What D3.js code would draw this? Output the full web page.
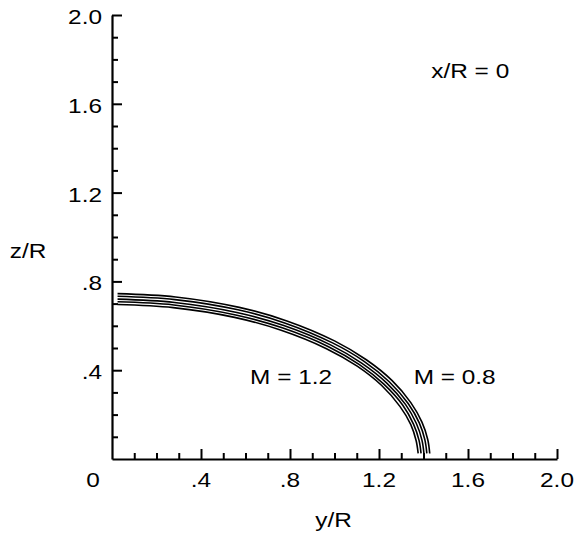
<!DOCTYPE html>
<html>
<head>
<meta charset="utf-8">
<script src="https://cdn.jsdelivr.net/npm/d3@7"></script>
<style>
  html, body { margin: 0; padding: 0; background: #fff; }
  svg { display: block; }
  text { font-family: "Liberation Sans", Arial, Helvetica, sans-serif; fill: #000; }
</style>
</head>
<body>
<svg id="chart" width="576" height="537"></svg>
<script>
// ---- data ----
const majorTicks = [0.4, 0.8, 1.2, 1.6, 2.0];
const tickLabels = [".4", ".8", "1.2", "1.6", "2.0"];
const minorTicks = [0.1, 0.2, 0.3, 0.5, 0.6, 0.7, 0.9, 1.0, 1.1, 1.3, 1.4, 1.5, 1.7, 1.8, 1.9];

// five contour curves (inner M = 1.2 ... outer M = 0.8): y/R and z/R
const curve1Y = [0.025, 0.275, 0.551, 0.757, 0.964, 1.102, 1.212, 1.294, 1.343, 1.367, 1.376];
const curve1Z = [0.696, 0.682, 0.638, 0.581, 0.497, 0.418, 0.331, 0.237, 0.155, 0.082, 0.025];
const curve2Y = [0.025, 0.278, 0.556, 0.765, 0.973, 1.112, 1.223, 1.307, 1.355, 1.380, 1.389];
const curve2Z = [0.708, 0.694, 0.649, 0.591, 0.506, 0.425, 0.336, 0.242, 0.157, 0.084, 0.025];
const curve3Y = [0.025, 0.281, 0.561, 0.772, 0.982, 1.122, 1.235, 1.319, 1.368, 1.393, 1.402];
const curve3Z = [0.720, 0.705, 0.660, 0.601, 0.514, 0.432, 0.342, 0.246, 0.160, 0.085, 0.025];
const curve4Y = [0.025, 0.283, 0.566, 0.779, 0.991, 1.133, 1.246, 1.331, 1.381, 1.406, 1.415];
const curve4Z = [0.733, 0.718, 0.672, 0.612, 0.523, 0.440, 0.348, 0.250, 0.163, 0.087, 0.025];
const curve5Y = [0.025, 0.286, 0.572, 0.786, 1.000, 1.143, 1.258, 1.343, 1.393, 1.419, 1.428];
const curve5Z = [0.745, 0.730, 0.683, 0.622, 0.532, 0.447, 0.354, 0.254, 0.166, 0.088, 0.025];

const curvesY = [curve1Y, curve2Y, curve3Y, curve4Y, curve5Y];
const curvesZ = [curve1Z, curve2Z, curve3Z, curve4Z, curve5Z];

const annotations = [
  { text: "x/R = 0", y: 1.61, z: 1.715 },
  { text: "M = 1.2", y: 0.805, z: 0.34 },
  { text: "M = 0.8", y: 1.54, z: 0.34 }
];

// ---- layout ----
const svg = d3.select("#chart");
const x = d3.scaleLinear().domain([0, 2]).range([112, 557]);
const y = d3.scaleLinear().domain([0, 2]).range([459, 15]);
const fs = 20;
const stretch = 1.22;

function addText(parent, px, py, str, anchor) {
  return parent.append("text")
    .attr("transform", `translate(${px},${py}) scale(${stretch},1)`)
    .attr("text-anchor", anchor || "middle")
    .attr("font-size", fs)
    .text(str);
}

// curves
const line = d3.line()
  .x(d => x(d[0]))
  .y(d => y(d[1]))
  .curve(d3.curveCatmullRom.alpha(0.5));

curvesY.forEach((cy, i) => {
  const pts = cy.map((v, j) => [v, curvesZ[i][j]]);
  svg.append("path")
    .attr("d", line(pts))
    .attr("fill", "none")
    .attr("stroke", "#000")
    .attr("stroke-width", 1.6);
});

// axes (ticks point inward)
const axisG = svg.append("g");
const xAxis = d3.axisBottom(x).tickValues(majorTicks).tickSize(-10).tickFormat("").tickSizeOuter(0);
const xMinor = d3.axisBottom(x).tickValues(minorTicks).tickSize(-6).tickFormat("").tickSizeOuter(0);
const yAxis = d3.axisLeft(y).tickValues(majorTicks).tickSize(-10).tickFormat("").tickSizeOuter(0);
const yMinor = d3.axisLeft(y).tickValues(minorTicks).tickSize(-6).tickFormat("").tickSizeOuter(0);

const gx = axisG.append("g").attr("transform", `translate(0,${y(0)})`).call(xAxis);
const gxm = axisG.append("g").attr("transform", `translate(0,${y(0)})`).call(xMinor);
const gy = axisG.append("g").attr("transform", `translate(${x(0)},0)`).call(yAxis);
const gym = axisG.append("g").attr("transform", `translate(${x(0)},0)`).call(yMinor);
[gx, gxm, gy, gym].forEach(g => {
  g.selectAll("path.domain").attr("stroke", "#000").attr("stroke-width", 2.2);
  g.selectAll(".tick line").attr("stroke", "#000").attr("stroke-width", 2);
});
gxm.select("path.domain").remove();
gym.select("path.domain").remove();

// tick labels
const labG = svg.append("g");
majorTicks.forEach((d, i) => addText(labG, x(d), 487, tickLabels[i], "middle"));
majorTicks.forEach((d, i) => addText(labG, 102, y(d) + 9, tickLabels[i], "end"));
addText(labG, 93, 487, "0", "middle");

// axis titles
addText(svg, (x(0) + x(2)) / 2 - 1, 527, "y/R", "middle");
addText(svg, 28, 258, "z/R", "middle");

// annotations
annotations.forEach(d => addText(svg, x(d.y), y(d.z), d.text, "middle"));
</script>
</body>
</html>
